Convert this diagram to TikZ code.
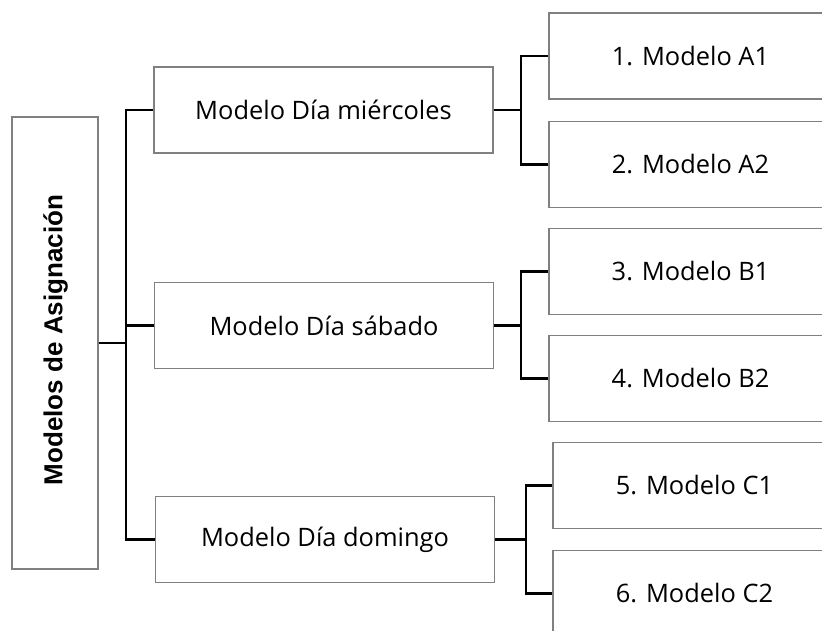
\documentclass[tikz,border=0pt]{standalone}
\usepackage{fontspec}
\setmainfont{Open Sans}
\newfontfamily\titlefont{Liberation Sans}
\begin{document}
\begin{tikzpicture}[x=1pt,y=-1pt,
  box/.style={draw=black!50, line width=1.1pt, fill=white, inner sep=0pt,
    align=center, font=\fontsize{25.4}{30}\selectfont},
  midbox/.style={box, minimum width=339pt, minimum height=86pt},
  leafbox/.style={box, minimum width=283pt, minimum height=86pt},
  conn/.style={draw=black, line width=2.8pt}]
  \useasboundingbox (0,0) rectangle (822,631);
  \clip (0,0) rectangle (822,631);

  % root of the tree, label set vertically
  \node[box, minimum width=86pt, minimum height=452pt] (root) at (55,343) {};
  \node[rotate=90, font=\titlefont\bfseries\fontsize{26}{30}\selectfont] (title) at (55.5,340) {Modelos de Asignación};

  % one model per day
  \node[midbox] (mie) at (323.5,110) {Modelo Día miércoles};
  \node[midbox] (sab) at (324,325.5) {Modelo Día sábado};
  \node[midbox] (dom) at (325,539.5) {Modelo Día domingo};

  % individual models
  \node[leafbox] (a1) at (690.5,56) {1. Modelo A1};
  \node[leafbox] (a2) at (690.5,164.5) {2. Modelo A2};
  \node[leafbox] (b1) at (690.5,271.5) {3. Modelo B1};
  \node[leafbox] (b2) at (690.5,378.5) {4. Modelo B2};
  \node[leafbox] (c1) at (694.5,485.5) {5. Modelo C1};
  \node[leafbox] (c2) at (694.5,593.5) {6. Modelo C2};

  % bus lines of the brackets
  \coordinate (busR) at (126,0);
  \coordinate (busA) at (521,0);
  \coordinate (busB) at (521,0);
  \coordinate (busC) at (526,0);

  % root bracket
  \draw[conn] (root.east) -- (root.east -| busR);
  \draw[conn] (mie.west) -- (mie.west -| busR) -- (dom.west -| busR) -- (dom.west);
  \draw[conn] (sab.west) -- (sab.west -| busR);

  % day brackets
  \draw[conn] (mie.east) -- (mie.east -| busA);
  \draw[conn] (a1.west) -- (a1.west -| busA) -- (a2.west -| busA) -- (a2.west);
  \draw[conn] (sab.east) -- (sab.east -| busB);
  \draw[conn] (b1.west) -- (b1.west -| busB) -- (b2.west -| busB) -- (b2.west);
  \draw[conn] (dom.east) -- (dom.east -| busC);
  \draw[conn] (c1.west) -- (c1.west -| busC) -- (c2.west -| busC) -- (c2.west);
\end{tikzpicture}
\end{document}
